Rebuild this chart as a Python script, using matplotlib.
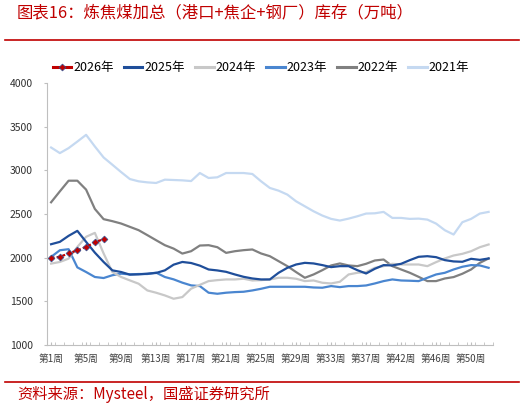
import numpy as np
import matplotlib
matplotlib.use("Agg")
import matplotlib.pyplot as plt
from matplotlib.lines import Line2D

plt.rcParams['font.family'] = ['Noto Sans CJK SC', 'DejaVu Sans']

# week categories (第41周 is not in the source axis)
weeks = [1, 2, 3, 4, 5, 6, 7, 8, 9, 10, 11, 12, 13, 14, 15, 16, 17, 18, 19, 20,
         21, 22, 23, 24, 25, 26, 27, 28, 29, 30, 31, 32, 33, 34, 35, 36, 37, 38, 39, 40,
         42, 43, 44, 45, 46, 47, 48, 49, 50, 51, 52]

y2026 = [2000, 2010, 2050, 2085, 2125, 2175, 2215]
y2025 = [2155, 2182, 2251, 2308, 2182, 2059, 1952, 1856, 1837, 1807,
         1810, 1818, 1826, 1856, 1921, 1952, 1940, 1910, 1866, 1855,
         1839, 1809, 1782, 1763, 1752, 1752, 1828, 1885, 1923, 1942,
         1935, 1916, 1893, 1904, 1904, 1858, 1820, 1874, 1916, 1912,
         1931, 1973, 2011, 2018, 2007, 1973, 1958, 1954, 1988, 1976, 1992]
y2024 = [1933, 1952, 1990, 2124, 2240, 2285, 2050, 1837, 1780, 1741,
         1703, 1626, 1600, 1569, 1531, 1550, 1646, 1690, 1733, 1744,
         1752, 1752, 1760, 1740, 1744, 1752, 1771, 1771, 1760, 1733,
         1740, 1714, 1706, 1725, 1809, 1828, 1836, 1885, 1904, 1931,
         1923, 1923, 1923, 1904, 1950, 1992, 2026, 2045, 2075, 2121, 2152]
y2023 = [2010, 2086, 2098, 1890, 1837, 1780, 1768, 1800, 1818, 1810,
         1814, 1814, 1830, 1780, 1753, 1715, 1684, 1676, 1600, 1588,
         1600, 1607, 1611, 1626, 1645, 1668, 1668, 1668, 1668, 1668,
         1660, 1657, 1676, 1664, 1676, 1676, 1683, 1706, 1733, 1752,
         1740, 1737, 1733, 1771, 1809, 1828, 1866, 1897, 1916, 1912, 1885]
y2022 = [2635, 2760, 2882, 2882, 2780, 2559, 2442, 2419, 2392, 2354,
         2316, 2259, 2201, 2144, 2105, 2048, 2075, 2140, 2144, 2121,
         2056, 2075, 2087, 2095, 2049, 2018, 1961, 1904, 1836, 1771,
         1809, 1858, 1912, 1935, 1912, 1904, 1931, 1969, 1980, 1904,
         1866, 1828, 1782, 1733, 1733, 1763, 1779, 1817, 1866, 1942, 1992]
y2021 = [3262, 3198, 3255, 3330, 3407, 3274, 3148, 3065, 2981, 2901,
         2875, 2863, 2856, 2894, 2890, 2886, 2878, 2970, 2913, 2921,
         2970, 2970, 2970, 2959, 2875, 2799, 2768, 2723, 2646, 2589,
         2532, 2483, 2445, 2426, 2448, 2475, 2506, 2509, 2525, 2456,
         2456, 2445, 2448, 2437, 2391, 2315, 2266, 2407, 2445, 2506, 2525]

red = '#C00000'
series = [
    ('2021年', y2021, '#C5D9F1'),
    ('2022年', y2022, '#808080'),
    ('2023年', y2023, '#4A86D0'),
    ('2024年', y2024, '#C8C8C8'),
    ('2025年', y2025, '#1F4E9A'),
]

fig = plt.figure(figsize=(5.25, 4.07), dpi=100)
ax = fig.add_axes([0.089, 0.152, 0.850, 0.644])

x = np.arange(len(weeks))
for name, vals, col in series:
    ax.plot(x, vals, color=col, lw=1.6, solid_joinstyle='round')
x26 = np.arange(len(y2026))
ax.plot(x26, y2026, color=red, lw=1.6, ls=(0, (1.5, 1)), marker='D', ms=3.5,
        mfc=red, mec='#2F5597', mew=0.5)

ax.set_xlim(-0.5, len(weeks) - 0.5)
ax.set_ylim(1000, 4000)
ax.set_yticks([1000, 1500, 2000, 2500, 3000, 3500, 4000])
ax.set_xticks(x[::4])
ax.set_xticklabels(['第%d周' % w for w in weeks[::4]], fontsize=7, color='#404040')
ax.set_xticks(np.arange(-0.5, len(weeks), 1), minor=True)
ax.tick_params(axis='x', which='both', direction='in', length=2.5, color='#BFBFBF', pad=6)
ax.tick_params(axis='y', length=2, color='#BFBFBF', labelsize=7.5, labelcolor='#303030', pad=8)
for s in ['top', 'right']:
    ax.spines[s].set_visible(False)
for s in ['left', 'bottom']:
    ax.spines[s].set_color('#BFBFBF')
    ax.spines[s].set_linewidth(0.8)

# legend in the source order
handles = [Line2D([], [], color=red, lw=2.2, marker='D', ms=3.5, mfc=red, mec='#2F5597', mew=0.5)]
labels = ['2026年']
for name, vals, col in reversed(series):
    handles.append(Line2D([], [], color=col, lw=2.2))
    labels.append(name)
fig.legend(handles, labels, loc='center', bbox_to_anchor=(0.497, 0.833), ncol=6,
           frameon=False, fontsize=9, handlelength=1.5, handletextpad=0.15, columnspacing=0.8)

fig.text(0.032, 0.968, '图表16：炼焦煤加总（港口+焦企+钢厂）库存（万吨）', color=red,
         fontsize=11.8, va='center', ha='left', style='italic')
fig.add_artist(Line2D([0.01, 0.988], [0.902, 0.902], color=red, lw=1.2))
fig.add_artist(Line2D([0.01, 0.988], [0.061, 0.061], color=red, lw=1.2))
fig.text(0.032, 0.031, '资料来源：Mysteel，国盛证券研究所', color=red, fontsize=11,
         va='center', ha='left', style='italic')

fig.savefig('out.png', dpi=100)
